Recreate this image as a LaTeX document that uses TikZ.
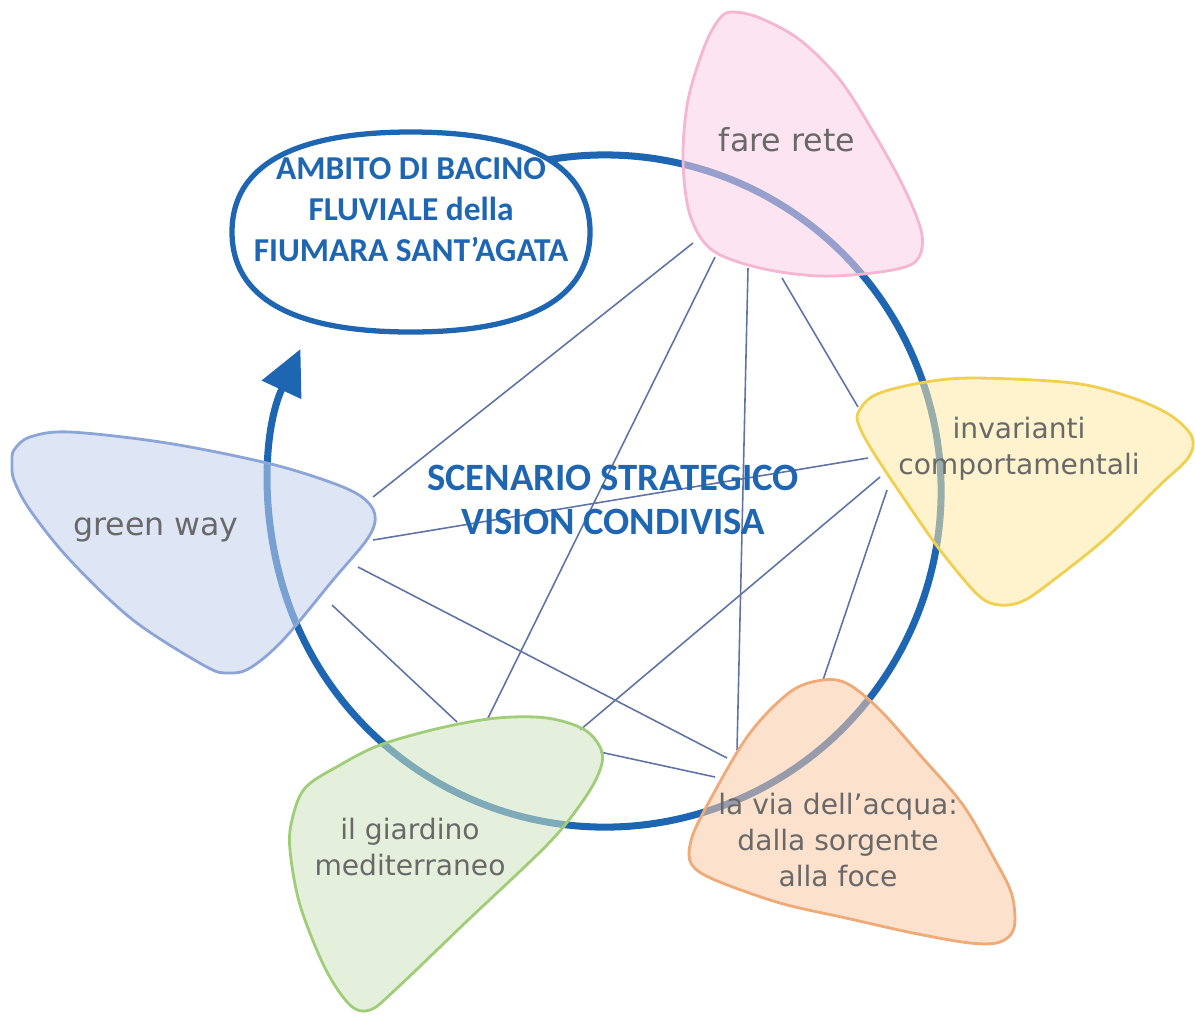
\documentclass[tikz,border=0pt]{standalone}
\usepackage{fontspec}
\usepackage{xcolor}
\usepackage{tikz}
\usetikzlibrary{arrows.meta}
\newfontfamily\titlefont{Carlito}
\newfontfamily\petalfont{DejaVu Sans}
\definecolor{riverblue}{RGB}{31,102,178}
\definecolor{linkblue}{RGB}{95,115,165}
\definecolor{petalgray}{RGB}{105,105,105}
\definecolor{pinkfill}{RGB}{250,206,228}
\definecolor{pinkline}{RGB}{244,182,208}
\definecolor{yellowfill}{RGB}{255,233,164}
\definecolor{yellowline}{RGB}{240,208,80}
\definecolor{bluefill}{RGB}{195,209,237}
\definecolor{blueline}{RGB}{140,165,215}
\definecolor{greenfill}{RGB}{206,228,191}
\definecolor{greenline}{RGB}{160,205,120}
\definecolor{orangefill}{RGB}{250,200,164}
\definecolor{orangeline}{RGB}{240,170,120}
\tikzstyle{ring} = [line width=2pt, draw=riverblue]
\tikzstyle{link} = [line width=0.45pt, draw=linkblue]
\tikzstyle{petal} = [line width=0.8pt, fill opacity=0.55]
\tikzstyle{petaltext} = [text=petalgray, font=\petalfont\fontsize{8}{10.2}\selectfont, align=center]
\tikzstyle{headline} = [text=riverblue, font=\titlefont\bfseries\fontsize{11}{12.5}\selectfont, align=center]

\begin{document}
% y runs downwards here, so arc angles are mirrored
\begin{tikzpicture}[x=0.01cm, y=-0.01cm]
        \useasboundingbox (0,0) rectangle (1195,1017);

        % Link ends on each theme
        \coordinate (rete1) at (693,243);
        \coordinate (rete2) at (715,257);
        \coordinate (rete3) at (748,268);
        \coordinate (rete4) at (782,278);
        \coordinate (inv1) at (858,407);
        \coordinate (inv2) at (868,458);
        \coordinate (inv3) at (880,477);
        \coordinate (inv4) at (887,490);
        \coordinate (way1) at (373,497);
        \coordinate (way2) at (373,540);
        \coordinate (way3) at (358,567);
        \coordinate (way4) at (332,605);
        \coordinate (giar1) at (457,722);
        \coordinate (giar2) at (487,720);
        \coordinate (giar3) at (580,730);
        \coordinate (giar4) at (600,752);
        \coordinate (acq1) at (737,750);
        \coordinate (acq2) at (727,758);
        \coordinate (acq3) at (715,777);
        \coordinate (acq4) at (823,680);

        % Links
        \draw [link] (rete1) -- (way1);
        \draw [link] (rete2) -- (giar2);
        \draw [link] (rete3) -- (acq1);
        \draw [link] (rete4) -- (inv1);
        \draw [link] (way2) -- (inv2);
        \draw [link] (way3) -- (acq2);
        \draw [link] (way4) -- (giar1);
        \draw [link] (giar3) -- (inv3);
        \draw [link] (giar4) -- (acq3);
        \draw [link] (inv4) -- (acq4);

        % Cycle
        \coordinate (hub) at (605,491);
        \draw [ring, -{Triangle[length=0.45cm, width=0.42cm]}] ([shift={(-110:336)}]hub) arc [start angle=-110, end angle=205, radius=336];

        % Basin
        \draw [ring, fill=white, line width=1.5pt] (232,232)
            .. controls (232,166) and (293,132) .. (411,132)
            .. controls (529,132) and (590,166) .. (590,232)
            .. controls (590,298) and (529,332) .. (411,332)
            .. controls (293,332) and (232,298) .. (232,232) -- cycle;
        \node (bacino) [headline, font=\titlefont\bfseries\fontsize{9.5}{11.7}\selectfont] at (411,210) {AMBITO DI BACINO\\FLUVIALE della\\FIUMARA SANT’AGATA};

        % Themes
        \draw [petal, fill=pinkfill, draw=pinkline] plot [smooth cycle, tension=0.55] coordinates {
            (733,12) (760,18) (800,40) (840,80) (875,135) (905,190) (922,235) (915,262) (880,272) (820,276)
            (760,268) (712,250) (690,215) (683,160) (688,100) (705,45) (720,18)};
        \draw [petal, fill=yellowfill, draw=yellowline] plot [smooth cycle, tension=0.55] coordinates {
            (858,413) (875,395) (920,383) (973,378) (1073,383) (1130,397) (1170,415) (1192,437) (1188,458)
            (1160,485) (1107,537) (1060,575) (1025,600) (1000,605) (978,595) (940,550) (907,503) (875,455) (860,428)};
        \draw [petal, fill=bluefill, draw=blueline] plot [smooth cycle, tension=0.55] coordinates {
            (12,463) (14,450) (30,437) (70,432) (167,443) (267,463) (330,482) (362,497) (375,515) (368,538)
            (333,580) (283,640) (250,668) (228,673) (205,666) (133,620) (70,560) (30,510) (14,480)};
        \draw [petal, fill=greenfill, draw=greenline] plot [smooth cycle, tension=0.55] coordinates {
            (292,820) (305,788) (340,765) (380,745) (440,728) (497,718) (547,718) (585,730) (602,752) (598,775)
            (580,805) (547,845) (466,922) (395,990) (370,1010) (350,1005) (325,968) (300,905) (290,850)};
        \draw [petal, fill=orangefill, draw=orangeline] plot [smooth cycle, tension=0.55] coordinates {
            (823,680) (848,684) (880,710) (920,755) (963,805) (995,860) (1012,895) (1014,928) (1000,942) (970,943)
            (913,933) (846,918) (780,903) (715,880) (692,865) (690,845) (702,815) (747,737) (790,692)};

        \node (rete) [petaltext, font=\petalfont\fontsize{9}{11}\selectfont] at (787,140) {fare rete};
        \node (invarianti) [petaltext] at (1019,449) {invarianti\\comportamentali};
        \node (greenway) [petaltext, font=\petalfont\fontsize{9}{11}\selectfont] at (156,530) {green way};
        \node (giardino) [petaltext] at (410,847) {il giardino\\mediterraneo};
        \node (acqua) [petaltext] at (838,840) {la via dell’acqua:\\dalla sorgente\\alla foce};

        % Centre
        \node (scenario) [headline] at (613,500) {SCENARIO STRATEGICO\\VISION CONDIVISA};
    \end{tikzpicture}
\end{document}
